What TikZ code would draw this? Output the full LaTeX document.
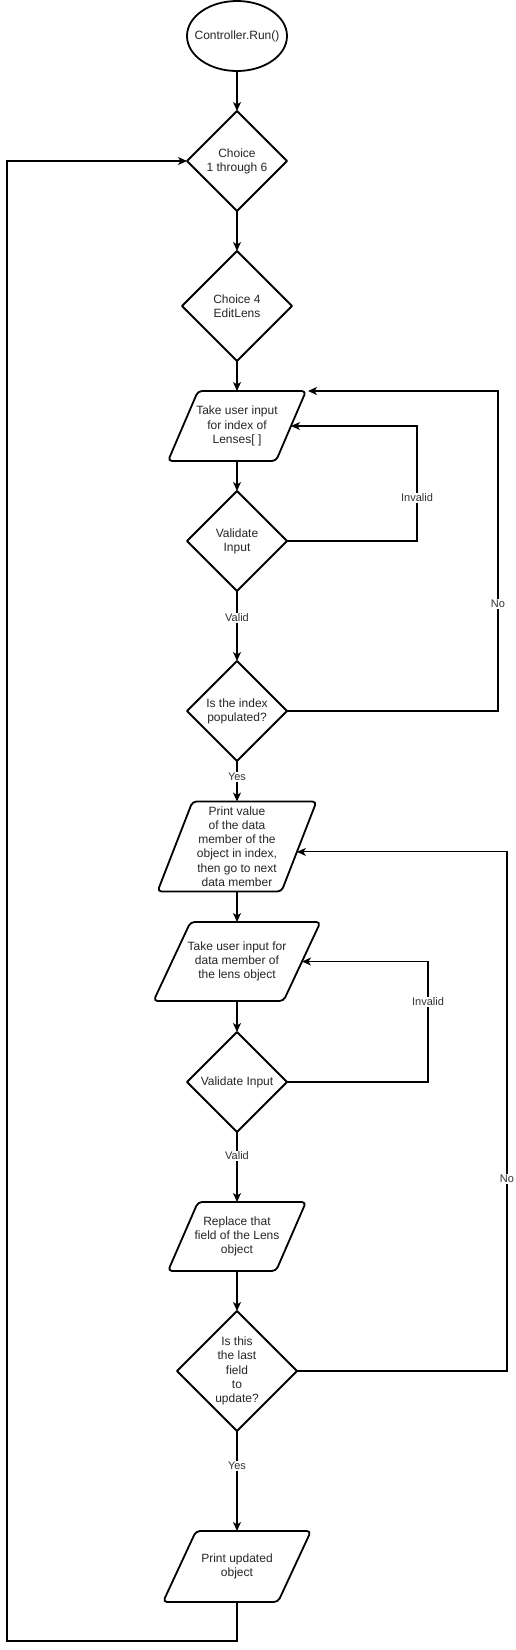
\documentclass[tikz,border=0pt]{standalone}
\usepackage{fontspec}
\setmainfont{Liberation Sans}
\usetikzlibrary{arrows.meta,calc}
\tikzset{
  shapeline/.style={line width=1.8pt, line join=round, black},
  ntext/.style={align=center, inner sep=0pt, outer sep=0pt, text=black!85, font=\fontsize{12}{14.2}\selectfont},
  conn/.style={line width=1.1pt, black, -{Stealth[length=9pt,width=8pt,inset=2.5pt]}},
  elabel/.style={fill=white, inner sep=1pt, text=black!80, font=\fontsize{11}{13}\selectfont},
}
\newcommand\paradraw[2]{\draw[shapeline, rounded corners=4pt] (#1.south west) -- ([xshift=#2]#1.north west) -- (#1.north east) -- ([xshift=-#2]#1.south east) -- cycle;}
\newcommand\diadraw[1]{\draw[shapeline] (#1.north) -- (#1.east) -- (#1.south) -- (#1.west) -- cycle;}
\begin{document}
\begin{tikzpicture}[x=1pt,y=-1pt]
\useasboundingbox (0,0) rectangle (516,1650);
\fill[white] (0,0) rectangle (516,1650);

% nodes
\node[ntext, minimum width=100, minimum height=70] (start) at (237,36) {Controller.Run()};
\draw[shapeline] (start.center) ellipse [x radius=50pt, y radius=35pt];

\node[ntext, minimum width=100, minimum height=100] (d1) at (237,161) {Choice\\1 through 6};
\diadraw{d1}
\node[ntext, minimum width=110, minimum height=110] (d2) at (237,306) {Choice 4\\EditLens};
\diadraw{d2}

\node[ntext, minimum width=138, minimum height=70] (p1) at (237,426) {Take user input\\for index of\\Lenses[ ]};
\paradraw{p1}{30pt}
\coordinate (p1r) at ($(p1.east)+(-15,0)$);

\node[ntext, minimum width=100, minimum height=100] (d3) at (237,541) {Validate\\Input};
\diadraw{d3}
\node[ntext, minimum width=100, minimum height=100] (d4) at (237,711) {Is the index\\populated?};
\diadraw{d4}

\node[ntext, minimum width=159, minimum height=90] (p2) at (237,846.5) {Print value\\of the data\\member of the\\object in index,\\then go to next\\data member};
\paradraw{p2}{35pt}
\coordinate (p2r) at ($(p2.north east)!0.56!([xshift=-35pt]p2.south east)$);

\node[ntext, minimum width=167, minimum height=79] (p3) at (237,961.5) {Take user input for\\data member of\\the lens object};
\paradraw{p3}{37pt}
\coordinate (p3r) at ($(p3.east)+(-18.5,0)$);

\node[ntext, minimum width=100, minimum height=100] (d5) at (237,1082) {Validate Input};
\diadraw{d5}

\node[ntext, minimum width=138, minimum height=69] (p4) at (237,1236.5) {Replace that\\field of the Lens\\object};
\paradraw{p4}{30pt}

\node[ntext, minimum width=120, minimum height=120] (d6) at (237,1371) {Is this\\the last\\field\\to\\update?};
\diadraw{d6}

\node[ntext, minimum width=148, minimum height=71] (p5) at (237,1566.5) {Print updated\\object};
\paradraw{p5}{33pt}

% connectors
\draw[conn] (start.south) -- (d1.north);
\draw[conn] (d1.south) -- (d2.north);
\draw[conn] (d2.south) -- (p1.north);
\draw[conn] (p1.south) -- (d3.north);
\coordinate (inv1) at (417,541);
\draw[conn] (d3.east) -- (inv1) |- (p1r);
\draw[conn] (d3.south) -- (d4.north);
\coordinate (no1) at (498,711);
\draw[conn] (d4.east) -- (no1) |- ([xshift=2pt]p1.north east);
\draw[conn] (d4.south) -- (p2.north);
\draw[conn] (p2.south) -- (p3.north);
\draw[conn] (p3.south) -- (d5.north);
\coordinate (inv2) at (428,1082);
\draw[conn] (d5.east) -- (inv2) |- (p3r);
\draw[conn] (d5.south) -- (p4.north);
\draw[conn] (p4.south) -- (d6.north);
\coordinate (no2) at (507,1371);
\draw[conn] (d6.east) -- (no2) |- (p2r);
\draw[conn] (d6.south) -- (p5.north);
\coordinate (back1) at (237,1641);
\coordinate (back2) at (7,1641);
\draw[conn] (p5.south) -- (back1) -- (back2) |- (d1.west);

% labels
\node[elabel] (linv1) at (417,498) {Invalid};
\node[elabel] (lval1) at (237,618) {Valid};
\node[elabel] (lno1) at (498,604) {No};
\node[elabel] (lyes1) at (237,777) {Yes};
\node[elabel] (linv2) at (428,1002) {Invalid};
\node[elabel] (lval2) at (237,1156) {Valid};
\node[elabel] (lno2) at (507,1179) {No};
\node[elabel] (lyes2) at (237,1466) {Yes};
\end{tikzpicture}
\end{document}
